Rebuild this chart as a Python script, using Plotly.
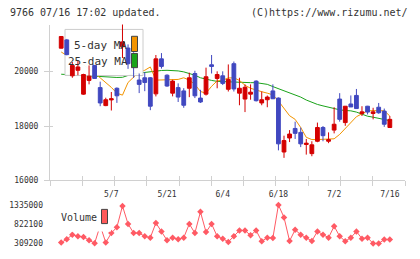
import plotly.graph_objects as go

W, H = 420, 259

# ---------------- data ----------------
opens = [20860, 21165, 19845, 20047, 19171, 19676, 20227, 19412, 18750, 18960,
         19387, 20912, 20865, 20650, 19690, 19773, 19773, 19182, 20468, 19867,
         19207, 19412, 19290, 19387, 19930, 19027, 19171, 20250, 19748, 19845,
         19350, 20290, 19207, 18991, 19171, 19650, 18847, 18966, 19290, 19027,
         17045, 17560, 17910, 17766, 17320, 16985, 17440, 17946, 17440, 17850,
         18990, 18126, 18810, 19124, 18460, 18728, 18460, 18690, 18548, 17946]
highs = [21300, 21200, 20350, 20407, 19920, 20227, 20240, 19630, 19040, 19250,
         19420, 21900, 21000, 20710, 19930, 19980, 19800, 20610, 20680, 19900,
         19700, 19567, 19390, 19960, 20030, 19330, 20145, 20610, 20010, 20010,
         20263, 20370, 19773, 19530, 19530, 19680, 19268, 19120, 19530, 19050,
         17645, 17850, 18160, 17946, 17525, 17440, 18126, 18000, 17766, 18690,
         19207, 18728, 19124, 19362, 18728, 18740, 18670, 18847, 18642, 18367]
lows = [20850, 20600, 19773, 19867, 19150, 19531, 19740, 18728, 18730, 18570,
        18850, 20500, 20100, 19770, 19210, 19280, 18583, 19088, 20110, 19440,
        19090, 18883, 18670, 19060, 19027, 18847, 19120, 19930, 19387, 19506,
        19268, 19268, 18763, 18512, 18966, 18900, 18763, 18690, 18990, 17106,
        16830, 17410, 17525, 17225, 16950, 16890, 17405, 17440, 17370, 17730,
        18160, 18007, 18700, 18642, 18368, 18425, 18245, 18450, 17970, 17946]
closes = [21290, 20623, 20227, 20170, 19892, 19830, 19748, 18847, 18966, 19000,
          19110, 21092, 20290, 20170, 19530, 19600, 18728, 20468, 20190, 19470,
          19650, 19063, 18763, 19773, 19110, 18883, 19810, 20190, 19892, 19567,
          19712, 19362, 19387, 19424, 19243, 18930, 18966, 19063, 19002, 17345,
          17466, 17705, 17730, 17345, 17370, 17310, 17946, 17645, 17500, 18065,
          18245, 18728, 18700, 18642, 18520, 18512, 18520, 18487, 18065, 18245]
ma5 = [20720, 20610, 20470, 20330, 20250, 20090, 19950, 19770, 19600, 19420,
       19207, 19135, 19600, 19810, 19990, 20047, 20170, 19686, 19686, 19690,
       19686, 19712, 19773, 19686, 19530, 19268, 19207, 19460, 19658, 19686,
       19765, 19773, 19676, 19496, 19387, 19315, 19261, 19207, 19146, 18919,
       18667, 18378, 18245, 17946, 17585, 17502, 17502, 17505, 17524, 17530,
       17693, 17910, 18108, 18342, 18450, 18560, 18565, 18558, 18560, 18367]
ma25 = [19903, 19890, 19872, 19861, 19843, 19832, 19814, 19803, 19791, 19786,
        19784, 19790, 19850, 19928, 19945, 19975, 19990, 20010, 20040, 20047,
        20040, 20025, 19990, 19928, 19867, 19773, 19712, 19676, 19640, 19629,
        19629, 19629, 19603, 19593, 19593, 19593, 19568, 19531, 19449, 19370,
        19290, 19207, 19146, 19063, 18955, 18865, 18793, 18740, 18685, 18630,
        18595, 18570, 18558, 18512, 18432, 18360, 18324, 18288, 18245, 18198]
volume = [334500, 421500, 543300, 499800, 482400, 395400, 315000, 786900, 334500, 586800,
          743400, 1308900, 830400, 586800, 586800, 499800, 465000, 856500, 630300, 395400,
          465000, 421500, 465000, 830400, 586800, 1152300, 612900, 830400, 499800, 438900,
          351900, 499800, 656400, 656400, 525900, 656400, 369300, 465000, 456300, 1335000,
          1004400, 378000, 673800, 543300, 465000, 378000, 630300, 543300, 465000, 769500,
          499800, 369300, 465000, 630300, 438900, 465000, 309200, 312000, 412800, 412800]
date_labels = ["5/7", "5/21", "6/4", "6/18", "7/2", "7/16"]
date_label_idx = [9, 19, 29, 39, 49, 59]
price_ticks = [16000, 18000, 20000]

idx = list(range(len(closes)))

# ---------------- geometry ----------------
RED = "#d40000"
BLUE = "#4048c0"
ORANGE = "#f39400"
GREEN = "#1aa31a"
VOLC = "#ff5a64"
AXC = "#d0d0d0"
TXT = "#333333"
FONT = "DejaVu Sans Mono"

X0_PX, X1_PX = 50, 405
C0_PX, DC_PX = 61.2, 5.57
x_lo = (X0_PX - C0_PX) / DC_PX
x_hi = (X1_PX - C0_PX) / DC_PX
x_step = (x_hi - x_lo) / 11

PY_TOP, PY_BOT = 25, 184
PX_PER_UNIT = (184 - 73) / 4000.0
p_lo = 16000
p_hi = p_lo + (PY_BOT - PY_TOP) / PX_PER_UNIT


def px_x(p):
    return (p - C0_PX) / DC_PX


def px_y(p):
    return p_lo + (PY_BOT - p) / PX_PER_UNIT


def fx(p):
    return p / W


def fy(p):
    return 1 - p / H


vmax, vmin = max(volume), min(volume)
vmid = (vmax + vmin) / 2
VY_MAX_PX, VY_MIN_PX = 209, 248.3
vper = (vmax - vmin) / (VY_MIN_PX - VY_MAX_PX)
VD_TOP, VD_BOT = 205, 256
v_hi = vmax + (VY_MAX_PX - VD_TOP) * vper
v_lo = vmin - (VD_BOT - VY_MIN_PX) * vper

fig = go.Figure()

# moving averages (main subplot)
fig.add_trace(go.Scatter(x=idx, y=ma25, mode="lines", line=dict(color=GREEN, width=1),
                         xaxis="x", yaxis="y", hoverinfo="skip", showlegend=False))
fig.add_trace(go.Scatter(x=idx, y=ma5, mode="lines", line=dict(color=ORANGE, width=1),
                         xaxis="x", yaxis="y", hoverinfo="skip", showlegend=False))

# legend background (covers the MA lines, sits below the candles)
LG = (65, 143, 30, 77)
fig.add_trace(go.Scatter(
    x=[px_x(LG[0]), px_x(LG[1]), px_x(LG[1]), px_x(LG[0]), px_x(LG[0])],
    y=[px_y(LG[2]), px_y(LG[2]), px_y(LG[3]), px_y(LG[3]), px_y(LG[2])],
    mode="lines", fill="toself", fillcolor="rgba(255,255,255,0.95)",
    line=dict(color="#cccccc", width=1), xaxis="x", yaxis="y",
    hoverinfo="skip", showlegend=False))

# candles (overlay subplot, drawn on top)
fig.add_trace(go.Candlestick(
    x=idx, open=opens, high=highs, low=lows, close=closes,
    xaxis="x2", yaxis="y2", whiskerwidth=0,
    increasing=dict(line=dict(color=RED, width=1), fillcolor=RED),
    decreasing=dict(line=dict(color=BLUE, width=1), fillcolor=BLUE),
    hoverinfo="skip", showlegend=False))

# volume
fig.add_trace(go.Scatter(x=idx, y=volume, mode="lines+markers",
                         line=dict(color=VOLC, width=1),
                         marker=dict(symbol="diamond", size=5, color=VOLC),
                         xaxis="x3", yaxis="y3", hoverinfo="skip", showlegend=False,
                         cliponaxis=False))

tf = dict(family=FONT, size=8, color=TXT)
xdom = [fx(X0_PX), fx(X1_PX)]

fig.update_layout(
    width=W, height=H, margin=dict(l=0, r=0, t=0, b=0),
    paper_bgcolor="white", plot_bgcolor="white",
    showlegend=False, boxgap=0.2, boxgroupgap=0.15,
    font=dict(family=FONT, color=TXT),
    xaxis=dict(domain=xdom, range=[x_lo, x_hi], anchor="y",
               showline=True, linecolor=AXC, linewidth=1,
               ticks="outside", ticklen=5, tickcolor=AXC, tickwidth=1,
               tickmode="linear", tick0=x_lo, dtick=x_step,
               showticklabels=False, showgrid=False, zeroline=False, fixedrange=True),
    yaxis=dict(domain=[fy(PY_BOT), fy(PY_TOP)], range=[p_lo, p_hi], anchor="x",
               showline=True, linecolor=AXC, linewidth=1,
               ticks="outside", ticklen=5, tickcolor=AXC, tickwidth=1,
               tickmode="array", tickvals=price_ticks,
               ticktext=[str(v) for v in price_ticks], tickfont=tf,
               ticklabelstandoff=4,
               showgrid=False, zeroline=False, fixedrange=True),
    xaxis2=dict(overlaying="x", range=[x_lo, x_hi], anchor="y2",
                showline=False, ticks="inside", ticklen=4, tickcolor=AXC, tickwidth=1,
                tickmode="linear", tick0=x_lo, dtick=x_step,
                showticklabels=False, showgrid=False, zeroline=False,
                rangeslider=dict(visible=False), fixedrange=True),
    yaxis2=dict(overlaying="y", range=[p_lo, p_hi], anchor="x2", side="left",
                showline=False, ticks="inside", ticklen=3, tickcolor=AXC, tickwidth=1,
                tickmode="array", tickvals=price_ticks, showticklabels=False,
                showgrid=False, zeroline=False, fixedrange=True),
    xaxis3=dict(domain=xdom, range=[x_lo, x_hi], anchor="y3", side="top",
                showline=False, ticks="", tickmode="array", tickvals=date_label_idx,
                ticktext=date_labels, tickfont=tf, ticklabelstandoff=1,
                showgrid=False, zeroline=False, fixedrange=True),
    yaxis3=dict(domain=[fy(VD_BOT), fy(VD_TOP)], range=[v_lo, v_hi], anchor="x3",
                showline=False, ticks="", tickmode="array",
                tickvals=[vmin, vmid, vmax],
                ticktext=[str(int(round(v))) for v in [vmin, vmid, vmax]],
                tickfont=tf, ticklabelstandoff=6,
                showgrid=False, zeroline=False, fixedrange=True),
)

shapes = [
    # MA legend swatches
    dict(type="rect", xref="paper", yref="paper", x0=fx(131.5), x1=fx(137.5),
         y0=fy(52.5), y1=fy(37), fillcolor=ORANGE, line=dict(color="#444444", width=1)),
    dict(type="rect", xref="paper", yref="paper", x0=fx(131.5), x1=fx(137.5),
         y0=fy(69), y1=fy(54.5), fillcolor=GREEN, line=dict(color="#444444", width=1)),
    # volume legend background and swatch
    dict(type="rect", xref="paper", yref="paper", x0=fx(56), x1=fx(111),
         y0=fy(236), y1=fy(211), fillcolor="white", line=dict(width=0), layer="above"),
    dict(type="rect", xref="paper", yref="paper", x0=fx(101.5), x1=fx(107.5),
         y0=fy(228), y1=fy(213.5), fillcolor="#ff5a5a", line=dict(color="#444444", width=1)),
]
fig.update_layout(shapes=shapes)

ann = [
    dict(text="9766 07/16 17:02 updated.", x=fx(8), y=fy(13), xanchor="left",
         yanchor="middle", font=dict(family=FONT, size=10, color=TXT)),
    dict(text="(C)https://www.rizumu.net/", x=fx(410), y=fy(13), xanchor="right",
         yanchor="middle", font=dict(family=FONT, size=10, color=TXT)),
    dict(text="5-day MA", x=fx(129), y=fy(46), xanchor="right", yanchor="middle",
         font=dict(family=FONT, size=11, color=TXT)),
    dict(text="25-day MA", x=fx(130), y=fy(63), xanchor="right", yanchor="middle",
         font=dict(family=FONT, size=11, color=TXT)),
    dict(text="Volume", x=fx(59), y=fy(221.5), xanchor="left", yanchor="middle",
         font=dict(family=FONT, size=10, color=TXT)),
]
for a in ann:
    a.update(xref="paper", yref="paper", showarrow=False)
fig.update_layout(annotations=ann)

fig.write_html("out.html", config={"displayModeBar": False})
